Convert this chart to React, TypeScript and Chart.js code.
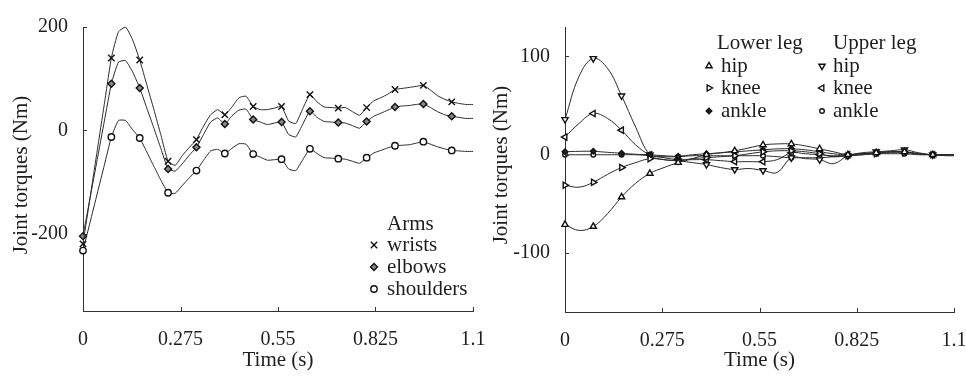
import React, { useEffect, useRef } from "react";
import { Chart, registerables } from "chart.js";

Chart.register(...registerables);

const FONT = "'Liberation Serif', 'Times New Roman', serif";
const INK = "#1e1e1e";
const LINE = "#2a2a2a";

// ---------- Left panel: arms ----------
const armTime = [
  0, 0.02, 0.04, 0.06, 0.08, 0.1, 0.12, 0.14, 0.16, 0.18,
  0.2, 0.22, 0.24, 0.26, 0.28, 0.3, 0.32, 0.34, 0.36, 0.38,
  0.4, 0.42, 0.44, 0.46, 0.48, 0.5, 0.52, 0.54, 0.56, 0.58,
  0.6, 0.62, 0.64, 0.66, 0.68, 0.7, 0.72, 0.74, 0.76, 0.78,
  0.8, 0.82, 0.84, 0.86, 0.88, 0.9, 0.92, 0.94, 0.96, 0.98,
  1.0, 1.02, 1.04, 1.06, 1.08, 1.1,
];
const wrists = [
  -220, -130, -40, 50, 140, 191, 200, 175, 136, 88,
  40, -10, -60, -68, -49, -33, -18, 8, 30, 40,
  30, 45, 63, 66, 46, 40, 40, 43, 46, 18,
  13, 42, 69, 55, 45, 44, 43, 44, 36, 29,
  44, 57, 63, 70, 79, 81, 83, 85, 87, 78,
  67, 60, 55, 52, 50, 50,
];
const elbows = [
  -205, -131, -57, 17, 90, 132, 135, 113, 82, 43,
  4, -36, -75, -79, -65, -48, -33, -8, 16, 24,
  12, 28, 39, 41, 21, 16, 11, 14, 16, -8,
  -13, 12, 37, 25, 17, 16, 15, 14, 9, 4,
  17, 27, 33, 39, 45, 47, 48, 50, 51, 44,
  36, 30, 27, 25, 23, 23,
];
const shoulders = [
  -233, -178, -123, -68, -13, 19, 19, 1, -15, -42,
  -70, -97, -121, -122, -107, -92, -78, -58, -40, -37,
  -45, -35, -26, -27, -46, -52, -58, -57, -56, -75,
  -78, -57, -36, -45, -53, -54, -55, -56, -60, -64,
  -53, -44, -39, -34, -30, -29, -28, -25, -22, -27,
  -32, -36, -39, -40, -41, -41,
];
const armYTicks = [-200, 0, 200];
const armLegendTitle = "Arms";
const armLabels = ["wrists", "elbows", "shoulders"];

// ---------- Right panel: legs ----------
const legTime = [
  0, 0.04, 0.08, 0.12, 0.16, 0.2, 0.24, 0.28, 0.32, 0.36,
  0.4, 0.44, 0.48, 0.52, 0.56, 0.6, 0.64, 0.68, 0.72, 0.76,
  0.8, 0.84, 0.88, 0.92, 0.96, 1.0, 1.04, 1.08, 1.1,
];
const lowerHip = [
  -71, -77, -73, -60, -43, -29, -19, -13, -8, -4,
  0, 2, 4, 7, 10, 11, 11, 9, 6, 3,
  0, 1, 2, 3, 3, 1, 0, 0, 0,
];
const lowerKnee = [
  -31, -33, -28, -20, -13, -8, -4, -5, -6, -4,
  -3, -2, -1, 1, 3, 4, 4, 3, 1, -2,
  -1, 0, 1, 2, 2, 1, 0, 0, 0,
];
const lowerAnkle = [
  3, 3.5, 3.5, 2.5, 1.5, 0.5, 0, -1, -1.5, 0,
  1, 2, 3, 4, 5, 6, 6, 5, 3, 1,
  0, 1, 2, 3, 3, 1, 0, 0, 0,
];
const upperHip = [
  36, 80, 98, 88, 60, 28, 0, -5, -6, -8,
  -10, -13, -15, -14, -16, -18, -3, -4, -5, -9,
  -1, 2, 3, 4, 5, 2, 0, -1, -1,
];
const upperKnee = [
  18, 32, 42, 37, 25, 10, 0, -3, -5, -5,
  -5, -6, -7, -7, -7, -5, 2, 1, 0, -1,
  0, 1, 2, 3, 3, 1, 0, 0, 0,
];
const upperAnkle = [
  0, 0, 0, 0, 0, 0, -1, -2, -2, -1,
  -1, -1, -1, -1, -1, -2, -3, -3, -3, -2,
  -1, 0, 1, 1, 1, 0, 0, 0, 0,
];
const legYTicks = [-100, 0, 100];
const legGroups = ["Lower leg", "Upper leg"];
const legJoints = ["hip", "knee", "ankle"];

// ---------- shared ----------
const timeTicks = [0, 0.275, 0.55, 0.825, 1.1];
const timeTickLabels = ["0", "0.275", "0.55", "0.825", "1.1"];
const xTitle = "Time (s)";
const yTitle = "Joint torques (Nm)";

type Marker = { style: string; rotation: number; radius: number; fill: string };

const MARK_W = 1.4;

const isMarkerTime = (t: number | undefined) => {
  if (t === undefined || t > 1.09) return false;
  const k = t / 0.08;
  return Math.abs(k - Math.round(k)) < 1e-6;
};

function drawMarker(ctx: CanvasRenderingContext2D, m: Marker, x: number, y: number) {
  const r = m.radius;
  ctx.save();
  ctx.translate(x, y);
  ctx.rotate((m.rotation * Math.PI) / 180);
  ctx.beginPath();
  ctx.lineWidth = MARK_W;
  ctx.strokeStyle = "#111";
  ctx.fillStyle = m.fill;
  if (m.style === "crossRot") {
    const d = r * Math.SQRT1_2;
    ctx.moveTo(-d, -d);
    ctx.lineTo(d, d);
    ctx.moveTo(-d, d);
    ctx.lineTo(d, -d);
    ctx.stroke();
  } else {
    if (m.style === "rectRot") {
      ctx.moveTo(0, -r);
      ctx.lineTo(r, 0);
      ctx.lineTo(0, r);
      ctx.lineTo(-r, 0);
      ctx.closePath();
    } else if (m.style === "circle") {
      ctx.arc(0, 0, r, 0, Math.PI * 2);
    } else if (m.style === "triangle") {
      for (let i = 0; i < 3; i++) {
        const a = (i * 2 * Math.PI) / 3;
        const px = Math.sin(a) * r;
        const py = -Math.cos(a) * r;
        if (i === 0) ctx.moveTo(px, py);
        else ctx.lineTo(px, py);
      }
      ctx.closePath();
    }
    ctx.fill();
    ctx.stroke();
  }
  ctx.restore();
}

type LegendItem = { text: string; x: number; y: number; marker?: Marker; mx?: number };

function buildConfig(o: {
  times: number[];
  series: number[][];
  labels: string[];
  markers: Marker[];
  tension: number;
  yMin: number;
  yMax: number;
  yTicks: number[];
  yAxisWidth: number;
  xAxisHeight: number;
  padTop: number;
  padRight: number;
  yTitlePos: [number, number];
  legend: LegendItem[];
}) {
  const overlay = {
    id: "overlay",
    afterDraw(chart: any) {
      const ctx: CanvasRenderingContext2D = chart.ctx;
      const ca = chart.chartArea;
      const xs = chart.scales.x;
      const ys = chart.scales.y;
      ctx.save();
      // inward tick marks
      ctx.strokeStyle = "#333";
      ctx.lineWidth = 1;
      ctx.beginPath();
      xs.ticks.forEach((t: any) => {
        const px = Math.round(xs.getPixelForValue(t.value)) + 0.5;
        ctx.moveTo(px, ca.bottom);
        ctx.lineTo(px, ca.bottom - 4);
      });
      ys.ticks.forEach((t: any) => {
        const py = Math.round(ys.getPixelForValue(t.value)) + 0.5;
        ctx.moveTo(ca.left, py);
        ctx.lineTo(ca.left + 4, py);
      });
      ctx.stroke();
      // y title
      ctx.fillStyle = INK;
      ctx.font = `21px ${FONT}`;
      ctx.textAlign = "center";
      ctx.textBaseline = "middle";
      ctx.save();
      ctx.translate(o.yTitlePos[0], o.yTitlePos[1]);
      ctx.rotate(-Math.PI / 2);
      ctx.fillText(yTitle, 0, 0);
      ctx.restore();
      // legend
      ctx.textAlign = "left";
      ctx.textBaseline = "middle";
      o.legend.forEach((it) => {
        if (it.marker && it.mx !== undefined) drawMarker(ctx, it.marker, it.mx, it.y);
        ctx.fillStyle = INK;
        ctx.font = `21px ${FONT}`;
        ctx.fillText(it.text, it.x, it.y);
      });
      ctx.restore();
    },
  };

  return {
    type: "line" as const,
    data: {
      datasets: o.series.map((vals, i) => {
        const m = o.markers[i];
        return {
          label: o.labels[i],
          data: vals.map((v, j) => ({ x: o.times[j], y: v })),
          borderColor: LINE,
          borderWidth: 1,
          tension: o.tension,
          fill: false,
          clip: false,
          pointStyle: m.style,
          pointRotation: m.rotation,
          pointRadius: (ctx: any) => (isMarkerTime(ctx.raw ? ctx.raw.x : undefined) ? m.radius : 0),
          pointHoverRadius: 0,
          pointBackgroundColor: m.fill,
          pointBorderColor: "#111",
          pointBorderWidth: MARK_W,
        };
      }),
    },
    options: {
      animation: false,
      responsive: false,
      maintainAspectRatio: false,
      events: [],
      layout: { padding: { left: 0, right: o.padRight, top: o.padTop, bottom: 0 } },
      plugins: { legend: { display: false }, tooltip: { enabled: false } },
      scales: {
        x: {
          type: "linear",
          min: 0,
          max: 1.1,
          afterBuildTicks: (s: any) => {
            s.ticks = timeTicks.map((v) => ({ value: v }));
          },
          afterFit: (s: any) => {
            s.height = o.xAxisHeight;
            s.paddingLeft = 0;
            s.paddingRight = 0;
          },
          grid: { display: false, drawTicks: false },
          border: { display: true, color: "#333", width: 1 },
          ticks: {
            padding: 17,
            color: INK,
            autoSkip: false,
            maxRotation: 0,
            font: { family: FONT, size: 20 },
            callback: (_v: any, i: number) => timeTickLabels[i],
          },
          title: {
            display: true,
            text: xTitle,
            color: INK,
            font: { family: FONT, size: 21 },
            padding: { top: 0, bottom: 3 },
          },
        },
        y: {
          type: "linear",
          min: o.yMin,
          max: o.yMax,
          afterBuildTicks: (s: any) => {
            s.ticks = o.yTicks.map((v) => ({ value: v }));
          },
          afterFit: (s: any) => {
            s.width = o.yAxisWidth;
          },
          grid: { display: false, drawTicks: false },
          border: { display: true, color: "#333", width: 1 },
          ticks: {
            padding: 15,
            color: INK,
            font: { family: FONT, size: 20 },
            callback: (v: any) => String(v),
          },
        },
      },
    },
    plugins: [overlay],
  };
}

const armMarkers: Marker[] = [
  { style: "crossRot", rotation: 0, radius: 4.5, fill: "#fff" },
  { style: "rectRot", rotation: 0, radius: 3.5, fill: "#888" },
  { style: "circle", rotation: 0, radius: 3.2, fill: "#fff" },
];
const legMarkers: Marker[] = [
  { style: "triangle", rotation: 0, radius: 3.6, fill: "#fff" },
  { style: "triangle", rotation: 90, radius: 3.6, fill: "#fff" },
  { style: "rectRot", rotation: 0, radius: 2.8, fill: "#222" },
  { style: "triangle", rotation: 180, radius: 3.6, fill: "#fff" },
  { style: "triangle", rotation: -90, radius: 3.6, fill: "#fff" },
  { style: "circle", rotation: 0, radius: 2.3, fill: "#fff" },
];

function leftConfig() {
  const rows = [245, 267, 289];
  return buildConfig({
    times: armTime,
    series: [wrists, elbows, shoulders],
    labels: armLabels,
    markers: armMarkers,
    tension: 0.15,
    yMin: -350,
    yMax: 200,
    yTicks: armYTicks,
    yAxisWidth: 83,
    xAxisHeight: 65,
    padTop: 15,
    padRight: 22,
    yTitlePos: [21, 175],
    legend: [
      { text: armLegendTitle, x: 387, y: 224 },
      ...armLabels.map((t, i) => ({ text: t, x: 387, y: rows[i], marker: armMarkers[i], mx: 374 })),
    ],
  });
}

function rightConfig() {
  const rows = [66, 88, 111];
  return buildConfig({
    times: legTime,
    series: [lowerHip, lowerKnee, lowerAnkle, upperHip, upperKnee, upperAnkle],
    labels: [...legJoints.map((j) => "Lower " + j), ...legJoints.map((j) => "Upper " + j)],
    markers: legMarkers,
    tension: 0.4,
    yMin: -160,
    yMax: 130,
    yTicks: legYTicks,
    yAxisWidth: 82,
    xAxisHeight: 64,
    padTop: 16,
    padRight: 12,
    yTitlePos: [18.5, 165],
    legend: [
      { text: legGroups[0], x: 234, y: 43 },
      { text: legGroups[1], x: 350, y: 43 },
      ...legJoints.map((t, i) => ({ text: t, x: 238, y: rows[i], marker: legMarkers[i], mx: 226 })),
      ...legJoints.map((t, i) => ({ text: t, x: 350, y: rows[i], marker: legMarkers[i + 3], mx: 339 })),
    ],
  });
}

function Panel({ make, left, width }: { make: () => any; left: number; width: number }) {
  const ref = useRef<HTMLCanvasElement>(null);
  useEffect(() => {
    const chart = new Chart(ref.current as HTMLCanvasElement, make());
    return () => chart.destroy();
  }, []);
  return (
    <canvas
      ref={ref}
      width={width}
      height={376}
      style={{ position: "absolute", left, top: 0, width, height: 376 }}
    />
  );
}

export default function App() {
  return (
    <div style={{ position: "absolute", left: 0, top: 0, width: 966, height: 376, background: "#fff", overflow: "hidden" }}>
      <Panel make={leftConfig} left={0} width={495} />
      <Panel make={rightConfig} left={483} width={483} />
    </div>
  );
}
